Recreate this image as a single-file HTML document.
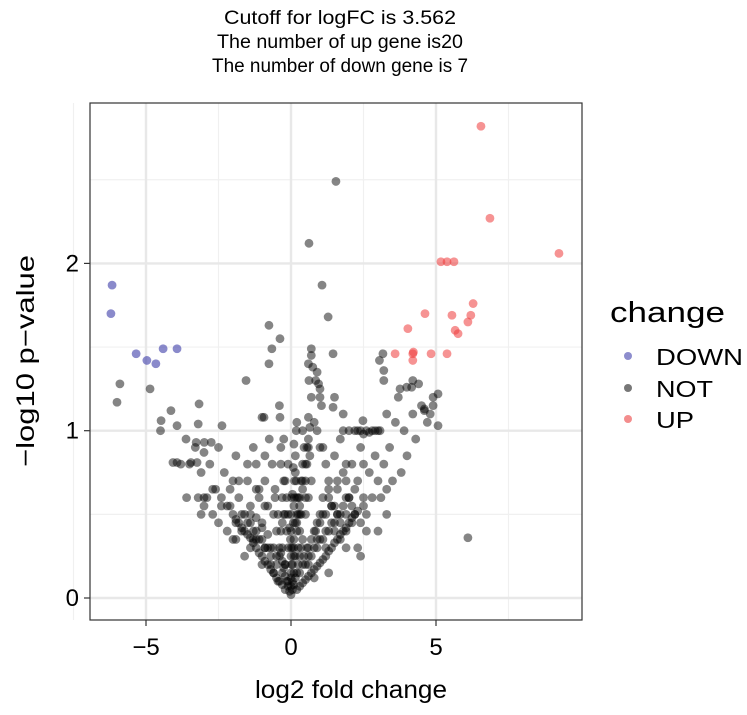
<!DOCTYPE html>
<html><head><meta charset="utf-8"><style>
body{margin:0;background:#fff;}
svg{display:block;font-family:"Liberation Sans",sans-serif;}
</style></head><body>
<svg id="chart" width="747" height="715">
<g font-size="19" text-anchor="middle" fill="#000">
<text x="340" y="24" textLength="232" lengthAdjust="spacingAndGlyphs">Cutoff for logFC is 3.562</text>
<text x="340" y="48" textLength="246" lengthAdjust="spacingAndGlyphs">The number of up gene is20</text>
<text x="340" y="72" textLength="256" lengthAdjust="spacingAndGlyphs">The number of down gene is 7</text>
</g>
<g id="grid"></g>
<g id="points"></g>
<rect x="90" y="103" width="492" height="517" fill="none" stroke="#333" stroke-width="1.2"/>
<g id="axes"></g>
<text x="351" y="698" font-size="25" text-anchor="middle" textLength="192" lengthAdjust="spacingAndGlyphs">log2 fold change</text>
<text transform="translate(34,361) rotate(-90)" font-size="25" text-anchor="middle" textLength="212" lengthAdjust="spacingAndGlyphs">−log10 p−value</text>
<g>
<text x="610" y="322" font-size="29" textLength="115" lengthAdjust="spacingAndGlyphs">change</text>
<circle cx="628" cy="356" r="4" fill="#7070c0" opacity="0.8"/>
<text x="656" y="365" font-size="23" textLength="87" lengthAdjust="spacingAndGlyphs">DOWN</text>
<circle cx="628" cy="388" r="4" fill="#555" opacity="0.8"/>
<text x="656" y="397" font-size="23" textLength="57" lengthAdjust="spacingAndGlyphs">NOT</text>
<circle cx="628" cy="419" r="4" fill="#f07070" opacity="0.8"/>
<text x="656" y="428" font-size="23" textLength="38" lengthAdjust="spacingAndGlyphs">UP</text>
</g>
</svg>
<script>
const xTicks=[-5,0,5];
const xMinor=[-7.5,-2.5,2.5,7.5];
const yTicks=[0,1,2];
const yMinor=[0.5,1.5,2.5];
const upX=[6.55,6.86,9.24,5.17,5.38,5.62,6.28,4.62,5.55,6.2,6.1,4.03,5.66,5.76,3.59,4.2,4.2,4.22,4.83,5.38];
const upY=[2.82,2.27,2.06,2.01,2.01,2.01,1.76,1.70,1.69,1.69,1.65,1.61,1.60,1.58,1.46,1.46,1.42,1.47,1.46,1.46];
const downX=[-6.17,-6.21,-5.34,-4.97,-4.66,-4.41,-3.93];
const downY=[1.87,1.70,1.46,1.42,1.40,1.49,1.49];
const notX=[0,0.05,-0.05,0.1,-0.1,0.15,-0.15,0.2,-0.2,0.25,-0.25,0.3,-0.3,0.35,-0.35,0.4,-0.4,0.02,0.05,-0.02,0.08,0,0.1,0.05,0.12,0.08,0.15,0.1,0.18,0.2,0.15,0,0,-0.05,0.02,
0.5,0.6,0.7,0.8,0.5,0.6,0.7,0.55,0.6,0.65,0.6,0.7,0.62,0.6,0.7,0.9,0.95,1,1.1,0.9,1,1.2,1.3,1.1,1,0.9,1.2,1.5,1.4,1.6,1.7,1.8,1.5,1.7,2,2.2,2.1,2.3,2.5,2.4,
1.8,2,2.2,2.4,2.6,2.8,3,2.9,2.7,2.5,2.3,3.07,
3.2,3.4,3.1,3.5,3,2.6,3.8,3.6,3.3,3.7,3.9,4,4.2,4.3,4.5,4.6,4.4,4.9,5.07,4.7,4.2,3.2,3.17,3.05,3.2,3.76,3.99,4.16,5.07,4.6,4.8,4.9,2.48,1.45,1.45,
3.3,1.9,2.4,1.3,0.8,6.1,1.55,0.62,1.07,1.28,0.7,0.75,0.85,1.0,1.05,0.8,1.3,1.5,1.8,1.9,2.3,
-0.5,-0.6,-0.55,-0.7,-0.8,-0.65,-0.75,-0.9,-1,-1.1,-1.2,-1,-0.9,-0.76,-0.38,-0.66,-0.76,-1.55,-1.1,-1.4,-1.3,-1.5,-1.6,-1.3,-1.8,-1.9,-2,-2.2,-2.3,-2.1,-2.5,-2.6,-2.8,-2.7,-3,-3.1,-3.3,-3,-3.5,-3.6,-3.8,
-5.9,-6,-4.86,-4.14,-3.17,-4.48,-4.5,-3.93,-3.2,-2.38,-3.62,-3.27,-2.99,-2.75,-3.0,-4.07,-3.93,-3.45,-3.24,-0.93,-0.38,
-0.3,-0.35,-0.25,-0.4,-0.2,-1.6,-1,-0.6,-2,-0.3,-0.5,-0.7,-0.9,-1.2,-1.4,-0.45,-0.2,-0.1,0.3,0.45,0.55,0.7,0.85,1.0,1.2,1.4,1.6,0.25,0.35,0.4,
0.6,0.9,1.1,1.3,1.5,1.7,1.9,2.1,-0.8,-1.0,-1.2,-1.4,-1.7,-1.9,-2.4,0.2,0.3,0.4,0.5,-0.25,-0.35,0.1,0.2];
const notY=[0.02,0.05,0.04,0.08,0.07,0.12,0.1,0.15,0.13,0.2,0.18,0.25,0.22,0.3,0.27,0.35,0.3,0.2,0.3,0.35,0.45,0.5,0.55,0.62,0.7,0.78,0.85,0.92,1.0,1.05,0.75,0.12,0.25,0.42,0.6,
0.2,0.3,0.25,0.4,0.5,0.6,0.7,0.8,0.9,1.02,1.08,1.2,1.3,1.4,1.45,1.35,1.28,1.2,0.9,1.0,0.9,0.8,0.7,0.6,0.5,0.35,0.3,0.4,0.55,0.65,0.5,0.75,0.85,0.95,0.6,0.5,0.8,0.7,0.6,0.9,
1.0,1.0,1.0,1.0,1.0,1.0,1.0,1.0,0.99,0.98,1.0,1.0,
0.8,0.9,0.6,0.7,0.4,0.4,0.75,1.05,1.1,1.2,1.0,0.85,1.1,0.95,1.15,1.12,1.28,1.2,1.03,1.05,1.3,1.3,1.46,1.42,1.36,1.25,1.26,1.26,1.22,1.13,1.1,1.15,1.06,1.46,1.14,
0.5,0.3,0.25,0.15,0.12,0.36,2.49,2.12,1.87,1.68,1.49,1.38,1.3,1.25,1.15,1.05,0.65,1.2,1.1,0.7,0.3,
0.4,0.5,0.65,0.3,0.55,0.8,0.95,0.7,0.45,0.6,0.8,1.08,0.55,1.63,1.55,1.49,1.40,1.30,0.65,0.5,0.9,0.7,0.5,0.35,0.6,0.85,0.7,0.55,0.75,0.55,0.9,0.65,0.8,0.5,0.55,0.75,0.9,0.6,0.8,0.6,0.8,
1.28,1.17,1.25,1.12,1.16,1.06,1.0,1.03,1.04,1.03,0.95,0.93,0.93,0.93,0.87,0.81,0.81,0.81,0.81,1.08,1.08,
0.6,0.8,0.95,1.15,0.5,0.25,0.2,0.15,0.35,0.45,0.25,0.2,0.3,0.35,0.3,0.1,0.2,0.1,0.15,0.25,0.3,0.35,0.4,0.45,0.5,0.55,0.5,0.6,0.5,0.7,
0.2,0.3,0.35,0.4,0.45,0.35,0.4,0.45,0.3,0.35,0.4,0.45,0.4,0.45,0.6,0.4,0.5,0.65,0.8,0.7,0.9,0.3,0.5];
const denseX=[-0.2,-0.3,-0.4,-0.5,-0.6,-0.7,-0.8,-0.9,-1.0,-1.1,-1.2,-1.3,-1.4,-1.5,-1.6,-1.7,-1.8,-1.9,-2.0,-0.3,-0.5,-0.7,-0.9,-1.1,-1.3,-1.5,-1.7,-0.4,-0.6,-0.8,-1.0,-1.2,-1.4,-0.2,-0.3,-0.35,-0.45,-0.55,-0.25,-0.15,-0.1,-0.1,-0.15,-0.2,-0.1,
0.2,0.3,0.4,0.5,0.6,0.7,0.8,0.9,1.0,1.1,1.2,1.3,1.4,1.5,1.6,1.7,1.8,1.9,2.0,2.1,2.2,2.3,2.5,0.4,0.6,0.8,1.0,1.2,1.4,1.6,1.8,2.0,2.2,1.7,1.9,2.1,1.5,1.3,1.1,0.9,0.3,0.25,0.3,0.35,0.4,0.45,0.4,0.3,0.2,0.2,0.25,0.15,0.1,0.05,0,0,0,0,0.05,0.1,0.1,0.15,0.12,0.18,0.5,0.5,0.55,0.6,0.65,
1.9,2.4,2.6,2.8,3.0,2.7,2.9,3.3,2.5,1.6,1.9,
-2.2,-2.4,-2.5,-2.7,-2.9,-3.1,-3.2,-2.1,-1.8,-1.5,-1.9,-1.2,-0.9];
const denseY=[0.05,0.08,0.1,0.12,0.15,0.17,0.2,0.22,0.25,0.27,0.3,0.33,0.36,0.38,0.4,0.42,0.45,0.47,0.5,0.15,0.2,0.25,0.3,0.35,0.4,0.45,0.5,0.25,0.3,0.38,0.42,0.48,0.55,0.2,0.3,0.4,0.5,0.6,0.5,0.4,0.3,0.5,0.6,0.7,0.8,
0.05,0.07,0.09,0.11,0.13,0.15,0.17,0.19,0.21,0.23,0.25,0.28,0.3,0.33,0.35,0.38,0.4,0.42,0.45,0.48,0.5,0.52,0.55,0.2,0.25,0.3,0.35,0.4,0.45,0.5,0.55,0.6,0.65,0.45,0.5,0.55,0.55,0.6,0.5,0.45,0.4,0.5,0.6,0.7,0.8,0.9,1.0,0.55,0.45,0.6,0.3,0.25,0.15,0.1,0.07,0.15,0.3,0.4,0.2,0.35,0.25,0.45,0.6,0.7,0.7,0.6,0.9,0.95,0.85,
0.6,0.45,0.5,0.6,0.7,0.75,0.85,0.65,0.8,0.7,0.8,
0.4,0.55,0.45,0.65,0.6,0.5,0.6,0.65,0.7,0.8,0.35,0.65,0.85];
const NS='http://www.w3.org/2000/svg';
const xs=v=>291+v*29, ys=v=>598-v*167.3;
const grid=document.getElementById('grid'), pts=document.getElementById('points'), axes=document.getElementById('axes');
function line(p,x1,y1,x2,y2,c,w){const l=document.createElementNS(NS,'line');l.setAttribute('x1',x1);l.setAttribute('y1',y1);l.setAttribute('x2',x2);l.setAttribute('y2',y2);l.setAttribute('stroke',c);l.setAttribute('stroke-width',w);p.appendChild(l);return l;}
xMinor.forEach(v=>{const l=line(grid,xs(v),103,xs(v),620,'#f0f0f0',1.2);

});
yMinor.forEach(v=>{const l=line(grid,90,ys(v),582,ys(v),'#f0f0f0',1.2);

});
xTicks.forEach(v=>{const l=line(grid,xs(v),103,xs(v),620,'#e8e8e8',2.4);


const t=line(axes,xs(v),620,xs(v),626,'#333',1.2);


const tx=document.createElementNS(NS,'text');tx.setAttribute('x',xs(v));tx.setAttribute('y',655);tx.setAttribute('font-size','24');tx.setAttribute('text-anchor','middle');tx.textContent=v<0?'−'+(-v):v;


axes.appendChild(tx);});
yTicks.forEach(v=>{const l=line(grid,90,ys(v),582,ys(v),'#e8e8e8',2.4);


const t=line(axes,84,ys(v),90,ys(v),'#333',1.2);


const tx=document.createElementNS(NS,'text');tx.setAttribute('x',79);tx.setAttribute('y',ys(v)+8);tx.setAttribute('font-size','24');tx.setAttribute('text-anchor','end');tx.textContent=v;


axes.appendChild(tx);});
function draw(X,Y,col,op,name){X.forEach((x,i)=>{const c=document.createElementNS(NS,'circle');c.setAttribute('cx',xs(x));c.setAttribute('cy',ys(Y[i]));c.setAttribute('r',4.4);c.setAttribute('fill',col);c.setAttribute('fill-opacity',op);


pts.appendChild(c);});}
draw(notX,notY,'#000',0.48,'point-not');
draw(denseX,denseY,'#000',0.48,'point-not');
draw(downX,downY,'#3c3ca8',0.6,'point-down');
draw(upX,upY,'#ee3b3b',0.55,'point-up');
</script>
</body></html>
